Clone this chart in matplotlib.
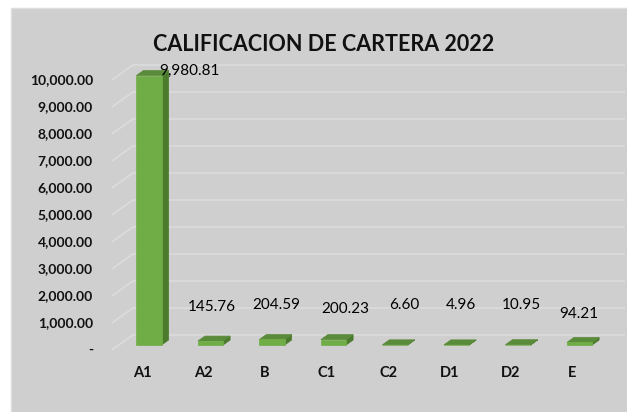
import matplotlib
matplotlib.use("Agg")
import matplotlib.pyplot as plt
from matplotlib.patches import Polygon, Rectangle

categories = ["A1", "A2", "B", "C1", "C2", "D1", "D2", "E"]
values = [9980.81, 145.76, 204.59, 200.23, 6.60, 4.96, 10.95, 94.21]
value_labels = ["9,980.81", "145.76", "204.59", "200.23", "6.60", "4.96", "10.95", "94.21"]
ticks = list(range(0, 10001, 1000))
tick_labels = ["-"] + [f"{t:,.2f}" for t in ticks[1:]]
title = "CALIFICACION DE CARTERA 2022"

# label nudges in pixels (where Excel left them)
label_offsets = [(40, 5), (1, 34), (4, 34), (12, 31), (9, 40), (4, 40), (3, 40), (-1, 28)]

plt.rcParams["font.family"] = ["Lato", "DejaVu Sans"]

BG = "#d0cfcf"
GRID = "#dddcdc"
FRONT = "#70ad47"
SIDE = "#4a7a2c"
TOP = "#5a8b3a"

fig = plt.figure(figsize=(6.27, 4.12), dpi=100)

ax = fig.add_axes([0, 0, 1, 1])
ax.set_axis_off()
ax.patch.set_alpha(0)
ax.set_xlim(-2.309, 7.886)
ax.set_ylim(-2296, 12963)

ax.add_patch(Rectangle((11 / 627, 0), 1, 1 - 8 / 412, transform=fig.transFigure,
                       facecolor=BG, edgecolor="#dedede", lw=1, zorder=0))

# oblique depth of the 3d box
DX = 0.3415
DY = 556
half_w = 0.205

# back wall gridlines + diagonal connectors
x_left = -0.49
x_right = len(categories) - 0.5 + DX + 0.01
for t in ticks:
    ax.plot([x_left, x_left + DX, x_right], [t, t + DY, t + DY],
            color=GRID, lw=1.2, zorder=1, solid_capstyle="butt")

for i, v in enumerate(values):
    x0 = i + DX / 3 - half_w
    x1 = i + DX / 3 + half_w
    y0 = DY / 3
    ddx, ddy = DX / 3, DY / 3
    # side
    ax.add_patch(Polygon([(x1, y0), (x1 + ddx, y0 + ddy), (x1 + ddx, y0 + ddy + v), (x1, y0 + v)],
                         closed=True, facecolor=SIDE, edgecolor=SIDE, lw=0.5, zorder=3))
    # top
    ax.add_patch(Polygon([(x0, y0 + v), (x1, y0 + v), (x1 + ddx, y0 + v + ddy), (x0 + ddx, y0 + v + ddy)],
                         closed=True, facecolor=TOP, edgecolor=TOP, lw=0.5, zorder=3))
    # front
    ax.add_patch(Rectangle((x0, y0), x1 - x0, v, facecolor=FRONT, edgecolor=FRONT, lw=0.5, zorder=4))

    ox, oy = label_offsets[i]
    ax.annotate(value_labels[i], (i + DX / 3, y0 + v), xytext=(ox, oy), textcoords="offset pixels",
                ha="center", va="center", fontsize=11, color="black", zorder=5)

for t, lab in zip(ticks, tick_labels):
    ax.text(-0.797, t, lab, ha="right", va="center", fontsize=10, fontweight="bold", color="#111111")

for i, c in enumerate(categories):
    ax.text(i, -852, c, ha="center", va="center", fontsize=10.5, fontweight="bold", color="#111111")

ax.text(2.95, 11300, title, ha="center", va="center", fontsize=15.5, fontweight="bold", color="#111111")

fig.savefig("out.png", dpi=100)
